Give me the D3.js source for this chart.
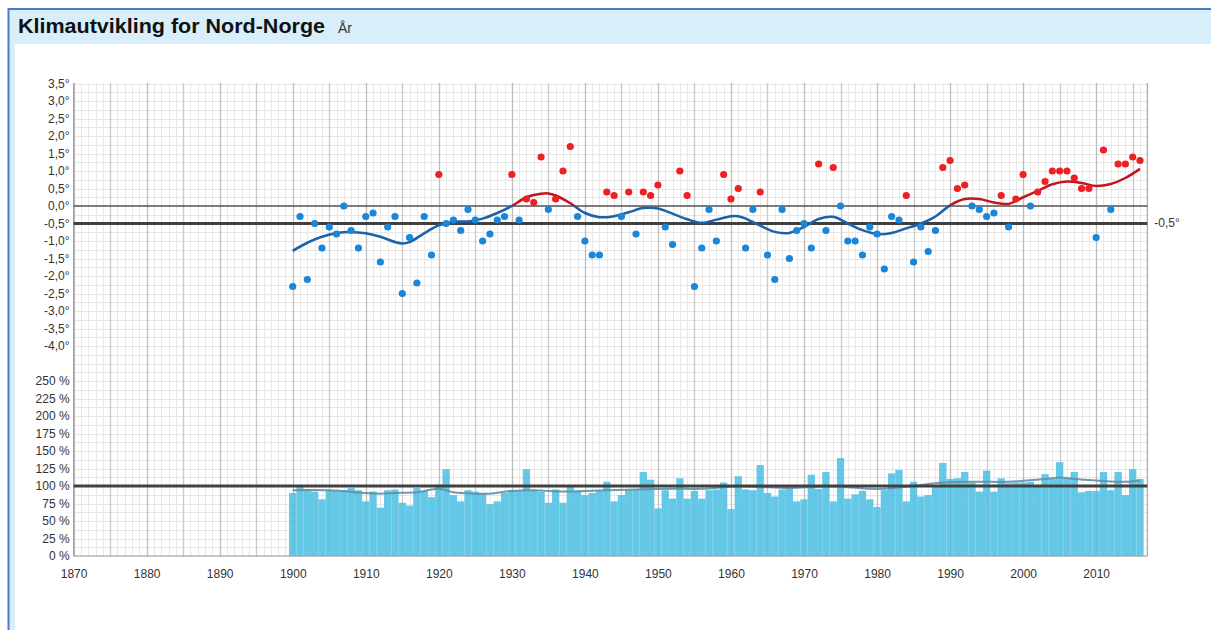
<!DOCTYPE html>
<html>
<head>
<meta charset="utf-8">
<script src="https://cdn.jsdelivr.net/npm/d3@7"></script>
<style>
body { margin: 0; background: #fff; }
svg { display: block; font-family: "Liberation Sans", Arial, sans-serif; }
</style>
</head>
<body>
<div id="chart"></div>
<script>
// Data (temperature anomaly in degrees, precipitation in % of normal)
var startYear = 1900;

var tempAnomaly = [
    -2.3, -0.3, -2.1, -0.5, -1.2, -0.6, -0.8, 0.0, -0.7, -1.2,
    -0.3, -0.2, -1.6, -0.6, -0.3, -2.5, -0.9, -2.2, -0.3, -1.4,
    0.9, -0.5, -0.4, -0.7, -0.1, -0.4, -1.0, -0.8, -0.4, -0.3,
    0.9, -0.4, 0.2, 0.1, 1.4, -0.1, 0.2, 1.0, 1.7, -0.3,
    -1.0, -1.4, -1.4, 0.4, 0.3, -0.3, 0.4, -0.8, 0.4, 0.3,
    0.6, -0.6, -1.1, 1.0, 0.3, -2.3, -1.2, -0.1, -1.0, 0.9,
    0.2, 0.5, -1.2, -0.1, 0.4, -1.4, -2.1, -0.1, -1.5, -0.7,
    -0.5, -1.2, 1.2, -0.7, 1.1, 0.0, -1.0, -1.0, -1.4, -0.6,
    -0.8, -1.8, -0.3, -0.4, 0.3, -1.6, -0.6, -1.3, -0.7, 1.1,
    1.3, 0.5, 0.6, 0.0, -0.1, -0.3, -0.2, 0.3, -0.6, 0.2,
    0.9, 0.0, 0.4, 0.7, 1.0, 1.0, 1.0, 0.8, 0.5, 0.5,
    -0.9, 1.6, -0.1, 1.2, 1.2, 1.4, 1.3
];

var tempTrendYears = [
    1900, 1902, 1904, 1906, 1908, 1910, 1912, 1914, 1915, 1916, 1918, 1920,
    1922, 1924, 1926, 1928, 1930, 1932, 1934, 1935, 1936, 1938, 1940, 1942,
    1944, 1946, 1948, 1950, 1952, 1954, 1956, 1958, 1960, 1961, 1962, 1964,
    1966, 1968, 1970, 1972, 1974, 1976, 1978, 1980, 1982, 1984, 1986, 1988,
    1990, 1992, 1994, 1996, 1998, 2000, 2002, 2004, 2006, 2008, 2010, 2012,
    2014, 2016
];
var tempTrendValues = [
    -1.28, -1.05, -0.88, -0.77, -0.74, -0.78, -0.88, -1.03, -1.07, -1.03, -0.78, -0.55,
    -0.45, -0.44, -0.36, -0.2, 0.0, 0.25, 0.35, 0.36, 0.3, 0.08, -0.2, -0.32,
    -0.29, -0.18, -0.06, -0.07, -0.22, -0.38, -0.48, -0.39, -0.29, -0.29, -0.36, -0.56,
    -0.74, -0.77, -0.6, -0.37, -0.31, -0.5, -0.69, -0.8, -0.77, -0.64, -0.5, -0.3,
    0.02, 0.2, 0.2, 0.1, 0.06, 0.25, 0.43, 0.62, 0.7, 0.66, 0.57, 0.63,
    0.8, 1.06
];

var precipPercent = [
    90, 101, 95, 92, 81, 94, 93, 94, 97, 94,
    78, 92, 69, 94, 95, 76, 72, 97, 93, 84,
    102, 124, 87, 78, 94, 92, 90, 74, 78, 90,
    94, 93, 124, 94, 92, 76, 95, 76, 99, 93,
    87, 90, 93, 106, 78, 87, 94, 95, 120, 109,
    68, 94, 82, 111, 82, 93, 82, 94, 95, 105,
    67, 114, 95, 94, 130, 90, 85, 95, 96, 78,
    81, 116, 96, 120, 78, 140, 82, 88, 93, 81,
    70, 94, 118, 123, 78, 106, 85, 87, 100, 133,
    110, 111, 120, 105, 92, 122, 92, 111, 104, 105,
    105, 106, 101, 117, 110, 134, 112, 120, 91, 93,
    93, 120, 94, 120, 87, 124, 110
];

var precipTrendYears = [
    1900, 1905, 1910, 1912, 1914, 1917, 1920, 1922, 1925, 1927, 1930, 1933,
    1935, 1937, 1940, 1943, 1947, 1952, 1956, 1960, 1963, 1968, 1972, 1975,
    1979, 1981, 1985, 1989, 1994, 1998, 2003, 2005, 2007, 2010, 2014, 2016
];
var precipTrendValues = [
    94, 94, 90, 89, 90, 91, 96, 91, 89, 89, 93, 94,
    93, 92, 93, 94, 95, 96, 96, 99, 99, 97, 99, 99,
    96, 96, 100, 105, 106, 106, 110, 112, 110, 108, 106, 108
];

var yearTicks = [1870, 1880, 1890, 1900, 1910, 1920, 1930, 1940, 1950, 1960, 1970, 1980, 1990, 2000, 2010];
var tempTicks = [3.5, 3.0, 2.5, 2.0, 1.5, 1.0, 0.5, 0.0, -0.5, -1.0, -1.5, -2.0, -2.5, -3.0, -3.5, -4.0];
var precipTicks = [250, 225, 200, 175, 150, 125, 100, 75, 50, 25, 0];
var normalTemp = -0.5;
var normalPrecip = 100;

var vWidth = 1211;
var vHeight = 630;

var years = tempAnomaly.map(function (d, i) { return startYear + i; });

var svg = d3.select("#chart")
    .append("svg")
    .attr("width", vWidth)
    .attr("height", vHeight);

// Panel frame + title bar
svg.append("rect").attr("x", 8).attr("y", 8).attr("width", vWidth).attr("height", vHeight)
    .attr("fill", "#d8eefa");
svg.append("rect").attr("x", 15).attr("y", 44).attr("width", vWidth).attr("height", vHeight)
    .attr("fill", "#fff");
svg.append("line").attr("x1", 8).attr("x2", vWidth).attr("y1", 9).attr("y2", 9)
    .attr("stroke", "#4a7cc4").attr("stroke-width", 2);
svg.append("line").attr("x1", 8.5).attr("x2", 8.5).attr("y1", 8).attr("y2", vHeight)
    .attr("stroke", "#4a7cc4").attr("stroke-width", 2);

svg.append("text").attr("x", 18).attr("y", 33)
    .attr("font-size", 20).attr("font-weight", "bold").attr("fill", "#111")
    .attr("textLength", 307).attr("lengthAdjust", "spacingAndGlyphs")
    .text("Klimautvikling for Nord-Norge");
svg.append("text").attr("x", 338).attr("y", 33)
    .attr("font-size", 14).attr("fill", "#333")
    .text("År");

// Scales
var x = d3.scaleLinear().domain([1870, 2017]).range([73.6, 1147.3]);
var yT = d3.scaleLinear().domain([-4, 3.5]).range([346, 83.5]);
var yP = d3.scaleLinear().domain([0, 250]).range([556, 381]);

var gridTop = yT(3.5) - 0.5;
var gridBottom = yP(0);

var g = svg.append("g");

// Horizontal grid
var hTemp = d3.range(-4.75, 3.51, 0.25);
var hPrec = d3.range(0, 251, 12.5);
g.selectAll(".ht").data(hTemp).enter().append("line")
    .attr("x1", x(1870)).attr("x2", x(2017))
    .attr("y1", function (d) { return Math.round(yT(d)) + 0.5; })
    .attr("y2", function (d) { return Math.round(yT(d)) + 0.5; })
    .attr("stroke", "#e6e6e6");
g.selectAll(".hp").data(hPrec).enter().append("line")
    .attr("x1", x(1870)).attr("x2", x(2017))
    .attr("y1", function (d) { return Math.round(yP(d)) + 0.5; })
    .attr("y2", function (d) { return Math.round(yP(d)) + 0.5; })
    .attr("stroke", "#e6e6e6");

// Vertical grid: every year light, every 5 years darker
var vYears = d3.range(1870, 2018);
g.selectAll(".vg").data(vYears).enter().append("line")
    .attr("x1", function (d) { return Math.round(x(d)) + 0.5; })
    .attr("x2", function (d) { return Math.round(x(d)) + 0.5; })
    .attr("y1", gridTop).attr("y2", gridBottom)
    .attr("stroke", function (d) { return d % 10 === 0 ? "#bdbdbd" : (d % 5 === 0 ? "#c9c9c9" : "#e8e8e8"); })
    .attr("stroke-width", function (d) { return d % 5 === 0 ? 1.3 : 1; });

// Axis frame
g.append("line").attr("x1", x(1870)).attr("x2", x(1870)).attr("y1", gridTop).attr("y2", gridBottom)
    .attr("stroke", "#999");
g.append("line").attr("x1", x(2017)).attr("x2", x(2017)).attr("y1", gridTop).attr("y2", gridBottom)
    .attr("stroke", "#999");
g.append("line").attr("x1", x(1870)).attr("x2", x(2017)).attr("y1", gridBottom).attr("y2", gridBottom)
    .attr("stroke", "#999");

// Precipitation bars
g.selectAll(".bar").data(precipPercent).enter().append("rect")
    .attr("x", function (d, i) { return x(years[i] - 0.5); })
    .attr("width", function (d, i) { return x(years[i] + 0.5) - x(years[i] - 0.5); })
    .attr("y", function (d) { return yP(d); })
    .attr("height", function (d) { return yP(0) - yP(d); })
    .attr("fill", "#4fc0e2")
    .attr("fill-opacity", 0.88);

// Precipitation trend
var pLine = d3.line()
    .x(function (d, i) { return x(precipTrendYears[i]); })
    .y(function (d) { return yP(d); })
    .curve(d3.curveCatmullRom);
g.append("path").attr("d", pLine(precipTrendValues))
    .attr("fill", "none").attr("stroke", "#5f8fa6").attr("stroke-width", 2).attr("stroke-opacity", 0.9);

// Reference lines
g.append("line").attr("x1", x(1870)).attr("x2", x(2017)).attr("y1", yT(0)).attr("y2", yT(0))
    .attr("stroke", "#555").attr("stroke-width", 1.5);
g.append("line").attr("x1", x(1870)).attr("x2", x(2017)).attr("y1", yT(normalTemp)).attr("y2", yT(normalTemp))
    .attr("stroke", "#404040").attr("stroke-width", 3);
g.append("line").attr("x1", x(1870)).attr("x2", x(2017)).attr("y1", yP(normalPrecip)).attr("y2", yP(normalPrecip))
    .attr("stroke", "#404040").attr("stroke-width", 3);

// Temperature trend, red above 0 and blue below
var defs = svg.append("defs");
defs.append("clipPath").attr("id", "clip-warm").append("rect")
    .attr("x", 0).attr("y", 0).attr("width", vWidth).attr("height", yT(0));
defs.append("clipPath").attr("id", "clip-cold").append("rect")
    .attr("x", 0).attr("y", yT(0)).attr("width", vWidth).attr("height", vHeight);

var tLine = d3.line()
    .x(function (d, i) { return x(tempTrendYears[i]); })
    .y(function (d) { return yT(d); })
    .curve(d3.curveCatmullRom);
g.append("path").attr("d", tLine(tempTrendValues)).attr("clip-path", "url(#clip-cold)")
    .attr("fill", "none").attr("stroke", "#1c62a8").attr("stroke-width", 2.5);
g.append("path").attr("d", tLine(tempTrendValues)).attr("clip-path", "url(#clip-warm)")
    .attr("fill", "none").attr("stroke", "#c0161c").attr("stroke-width", 2.5);

// Temperature dots
g.selectAll(".dot").data(tempAnomaly).enter().append("circle")
    .attr("cx", function (d, i) { return x(years[i]); })
    .attr("cy", function (d) { return yT(d); })
    .attr("r", 3.6)
    .attr("fill", function (d) { return d > 0 ? "#ee2024" : "#1a86d8"; });

// Axes
var fmtTemp = function (d) { return d.toFixed(1).replace(".", ",") + "°"; };

var axT = svg.append("g").attr("transform", "translate(" + x(1870) + ",0)")
    .call(d3.axisLeft(yT).tickValues(tempTicks).tickFormat(fmtTemp).tickSize(0).tickPadding(4));
var axP = svg.append("g").attr("transform", "translate(" + x(1870) + ",0)")
    .call(d3.axisLeft(yP).tickValues(precipTicks).tickFormat(function (d) { return d + " %"; }).tickSize(0).tickPadding(4));
var axX = svg.append("g").attr("transform", "translate(0," + gridBottom + ")")
    .call(d3.axisBottom(x).tickValues(yearTicks).tickFormat(d3.format("d")).tickSize(0).tickPadding(13));

[axT, axP, axX].forEach(function (a) {
    a.select(".domain").remove();
    a.selectAll("text").attr("font-size", 12).attr("fill", "#333")
        .attr("font-family", "'Liberation Sans', Arial, sans-serif");
});

svg.append("text").attr("x", x(2017) + 7).attr("y", yT(normalTemp)).attr("dy", "0.32em")
    .attr("font-size", 12).attr("fill", "#333")
    .text(fmtTemp(normalTemp));
</script>
</body>
</html>
